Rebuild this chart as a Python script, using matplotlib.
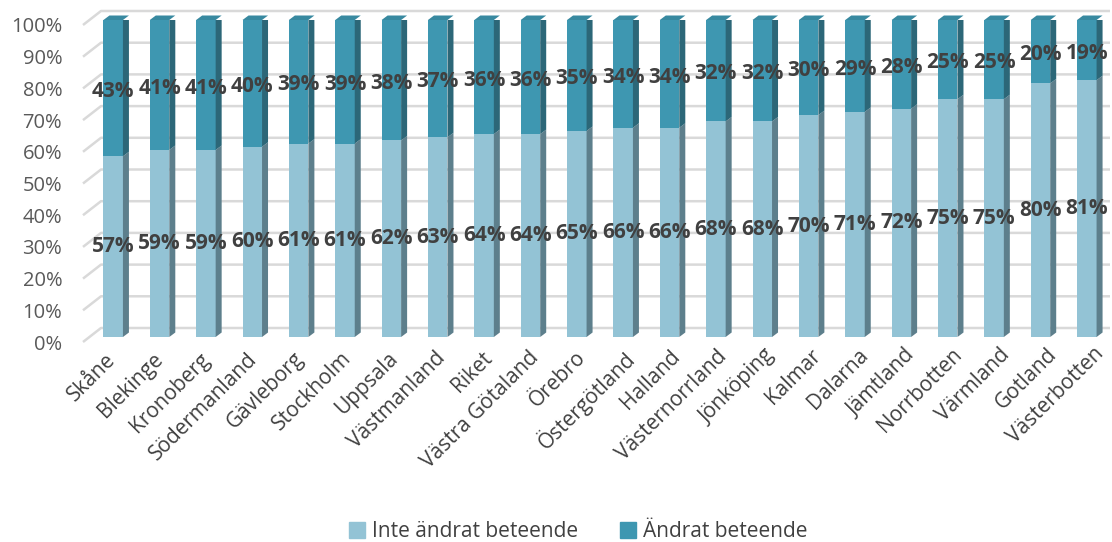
import matplotlib
matplotlib.use("Agg")
import matplotlib.pyplot as plt
from matplotlib.patches import Polygon, Patch
from matplotlib.transforms import ScaledTranslation

# data
regions = ["Skåne", "Blekinge", "Kronoberg", "Södermanland", "Gävleborg",
           "Stockholm", "Uppsala", "Västmanland", "Riket", "Västra Götaland",
           "Örebro", "Östergötland", "Halland", "Västernorrland", "Jönköping",
           "Kalmar", "Dalarna", "Jämtland", "Norrbotten", "Värmland",
           "Gotland", "Västerbotten"]
inte_andrat = [57, 59, 59, 60, 61, 61, 62, 63, 64, 64, 65, 66, 66, 68, 68,
               70, 71, 72, 75, 75, 80, 81]
andrat = [43, 41, 41, 40, 39, 39, 38, 37, 36, 36, 35, 34, 34, 32, 32,
          30, 29, 28, 25, 25, 20, 19]
yticks = list(range(0, 101, 10))
series_names = ["Inte ändrat beteende", "Ändrat beteende"]

# colours
light_front, light_side = "#93c3d5", "#5d7f8c"
dark_front, dark_side, dark_top = "#3e97b1", "#2c6778", "#3889a0"
grid_col = "#d9d9d9"
txt_col = "#404040"
tick_col = "#595959"

plt.rcParams["font.family"] = ["Open Sans", "DejaVu Sans"]

W, H = 1112, 542
fig = plt.figure(figsize=(W / 100, H / 100), dpi=100)
# plot area in pixels: x 90..1110, y(front) 20..337
ax = fig.add_axes([90 / W, (H - 337) / H, 1020 / W, 317 / H])
n = len(regions)
ax.set_xlim(-0.5, n - 0.5)
ax.set_ylim(0, 100)
for s in ax.spines.values():
    s.set_visible(False)

pxx = 1020 / n      # pixels per category
pxy = 317 / 100     # pixels per percent

# back wall gridlines with a short diagonal on the left side wall
x_front = -0.5 - 7 / pxx
x_back = -0.5 + 11 / pxx
for v in yticks:
    ax.plot([x_front, x_back, n - 0.5], [v - 5 / pxy, v + 9 / pxy, v + 9 / pxy],
            color=grid_col, lw=1.8, clip_on=False, zorder=0,
            solid_capstyle="butt")

# bars (front faces)
xs = list(range(n))
bw = 19.5 / pxx
dx, dy = 6 / pxx, 4.5 / pxy
ax.bar(xs, inte_andrat, width=bw, color=light_front, zorder=2)
ax.bar(xs, andrat, width=bw, bottom=inte_andrat, color=dark_front, zorder=2)

# side and top faces for the 3d look
for x, a, b in zip(xs, inte_andrat, andrat):
    r = x + bw / 2
    l = x - bw / 2
    ax.add_patch(Polygon([(r, 0), (r + dx, dy), (r + dx, a + dy), (r, a)],
                         closed=True, color=light_side, lw=0, zorder=2))
    ax.add_patch(Polygon([(r, a), (r + dx, a + dy), (r + dx, a + b + dy), (r, a + b)],
                         closed=True, color=dark_side, lw=0, zorder=2))
    ax.add_patch(Polygon([(l, a + b), (l + dx, a + b + dy), (r + dx, a + b + dy), (r, a + b)],
                         closed=True, color=dark_top, lw=0, zorder=2, clip_on=False))

# data labels
for x, a, b in zip(xs, inte_andrat, andrat):
    ax.text(x, a / 2, f"{a}%", ha="center", va="center", fontsize=15,
            fontweight="bold", color=txt_col, zorder=5)
    ax.text(x, a + b / 2 - 1, f"{b}%", ha="center", va="center", fontsize=15,
            fontweight="bold", color=txt_col, zorder=5)

# y axis labels
ax.set_yticks(yticks, labels=[f"{v}%" for v in yticks])
ax.tick_params(axis="y", length=0, pad=20, labelsize=14.5, labelcolor=tick_col)
shift = ScaledTranslation(0, -5 / 100, fig.dpi_scale_trans)
for lab in ax.get_yticklabels():
    lab.set_transform(lab.get_transform() + shift)

# x axis labels (excel spreads them a little wider than the bars)
ax.set_xticks(xs, labels=regions, rotation=45, ha="right",
              rotation_mode="anchor")
ax.tick_params(axis="x", length=0, pad=9, labelsize=15, labelcolor=txt_col)
for i, lab in enumerate(ax.get_xticklabels()):
    f = i / (n - 1)
    off = ScaledTranslation((-8 + 14 * f) / 100, (6 * f) / 100,
                            fig.dpi_scale_trans)
    lab.set_transform(lab.get_transform() + off)

handles = [Patch(color=light_front), Patch(color=dark_front)]
fig.legend(handles, series_names, loc="lower center", ncol=2, frameon=False,
           fontsize=15, labelcolor=txt_col, handlelength=0.75,
           handleheight=0.75, handletextpad=0.35, columnspacing=2.0,
           bbox_to_anchor=(0.52, -0.035))

fig.savefig("out.png", dpi=100)
